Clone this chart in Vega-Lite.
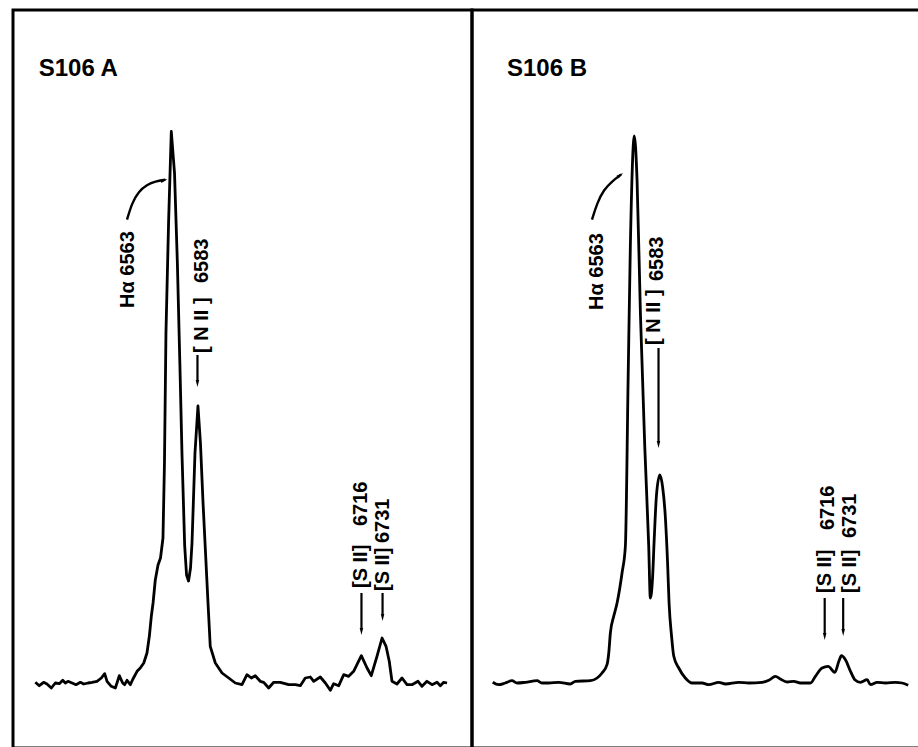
{
  "$schema": "https://vega.github.io/schema/vega-lite/v6.json",
  "padding": {"left": 11, "top": 8, "right": 0, "bottom": 1},
  "spacing": 0,
  "bounds": "flush",
  "background": "white",
  "config": {
    "view": {"stroke": "black", "strokeWidth": 3},
    "text": {"font": "Liberation Sans"}
  },
  "datasets": {
    "spectra": [
      {"panel":"A","wavelength":6453.0,"flux":0.7},{"panel":"A","wavelength":6456.2,"flux":-2.7},{"panel":"A","wavelength":6459.7,"flux":0.7},{"panel":"A","wavelength":6462.4,"flux":-1},{"panel":"A","wavelength":6465.9,"flux":-5},{"panel":"A","wavelength":6469.1,"flux":0},{"panel":"A","wavelength":6472.3,"flux":-0.7},{"panel":"A","wavelength":6475.1,"flux":2.7},{"panel":"A","wavelength":6477.2,"flux":0},{"panel":"A","wavelength":6479.3,"flux":1.7},{"panel":"A","wavelength":6482.6,"flux":0},{"panel":"A","wavelength":6485.8,"flux":-1.7},{"panel":"A","wavelength":6489.3,"flux":0.7},{"panel":"A","wavelength":6492.0,"flux":-1},{"panel":"A","wavelength":6495.5,"flux":0},{"panel":"A","wavelength":6498.7,"flux":0.7},{"panel":"A","wavelength":6502.7,"flux":1.7},{"panel":"A","wavelength":6506.2,"flux":5},{"panel":"A","wavelength":6508.9,"flux":9.3},{"panel":"A","wavelength":6510.8,"flux":1.7},{"panel":"A","wavelength":6514.2,"flux":-3.3},{"panel":"A","wavelength":6517.5,"flux":-5},{"panel":"A","wavelength":6520.7,"flux":7.3},{"panel":"A","wavelength":6523.4,"flux":0},{"panel":"A","wavelength":6525.0,"flux":-1.7},{"panel":"A","wavelength":6526.9,"flux":2.7},{"panel":"A","wavelength":6529.6,"flux":-1.7},{"panel":"A","wavelength":6531.7,"flux":4},{"panel":"A","wavelength":6535.0,"flux":11.7},{"panel":"A","wavelength":6537.6,"flux":15},{"panel":"A","wavelength":6540.4,"flux":20},{"panel":"A","wavelength":6543.0,"flux":30},{"panel":"A","wavelength":6544.9,"flux":46.7},{"panel":"A","wavelength":6546.5,"flux":66.7},{"panel":"A","wavelength":6547.9,"flux":80},{"panel":"A","wavelength":6549.7,"flux":103},{"panel":"A","wavelength":6551.9,"flux":118},{"panel":"A","wavelength":6553.9,"flux":125},{"panel":"A","wavelength":6555.9,"flux":145},{"panel":"A","wavelength":6557.1,"flux":220},{"panel":"A","wavelength":6558.3,"flux":350},{"panel":"A","wavelength":6560.4,"flux":460},{"panel":"A","wavelength":6562.6,"flux":551.5},{"panel":"A","wavelength":6565.2,"flux":510},{"panel":"A","wavelength":6567.5,"flux":420},{"panel":"A","wavelength":6569.5,"flux":320},{"panel":"A","wavelength":6571.2,"flux":230},{"panel":"A","wavelength":6573.4,"flux":137},{"panel":"A","wavelength":6574.9,"flux":108},{"panel":"A","wavelength":6576.5,"flux":102},{"panel":"A","wavelength":6578.1,"flux":115},{"panel":"A","wavelength":6579.3,"flux":140},{"panel":"A","wavelength":6581.7,"flux":230},{"panel":"A","wavelength":6584.1,"flux":277},{"panel":"A","wavelength":6586.1,"flux":240},{"panel":"A","wavelength":6588.2,"flux":180},{"panel":"A","wavelength":6590.2,"flux":130},{"panel":"A","wavelength":6592.2,"flux":80},{"panel":"A","wavelength":6594.0,"flux":36.7},{"panel":"A","wavelength":6598.1,"flux":20},{"panel":"A","wavelength":6603.5,"flux":10},{"panel":"A","wavelength":6608.9,"flux":5},{"panel":"A","wavelength":6614.2,"flux":0},{"panel":"A","wavelength":6619.6,"flux":-1.7},{"panel":"A","wavelength":6623.6,"flux":8.3},{"panel":"A","wavelength":6627.1,"flux":5},{"panel":"A","wavelength":6630.3,"flux":7.3},{"panel":"A","wavelength":6634.3,"flux":1.7},{"panel":"A","wavelength":6637.1,"flux":0.7},{"panel":"A","wavelength":6641.1,"flux":-5},{"panel":"A","wavelength":6645.2,"flux":0.7},{"panel":"A","wavelength":6650.5,"flux":0.7},{"panel":"A","wavelength":6657.2,"flux":-1.7},{"panel":"A","wavelength":6662.6,"flux":-1.7},{"panel":"A","wavelength":6666.6,"flux":-2.7},{"panel":"A","wavelength":6670.6,"flux":5},{"panel":"A","wavelength":6674.7,"flux":6},{"panel":"A","wavelength":6677.4,"flux":1.7},{"panel":"A","wavelength":6682.7,"flux":6},{"panel":"A","wavelength":6686.8,"flux":0},{"panel":"A","wavelength":6690.8,"flux":-7.3},{"panel":"A","wavelength":6693.5,"flux":-0.7},{"panel":"A","wavelength":6697.6,"flux":-2.7},{"panel":"A","wavelength":6701.6,"flux":8.3},{"panel":"A","wavelength":6705.6,"flux":6.7},{"panel":"A","wavelength":6709.6,"flux":11.7},{"panel":"A","wavelength":6715.8,"flux":27.3},{"panel":"A","wavelength":6720.4,"flux":15},{"panel":"A","wavelength":6723.8,"flux":7.3},{"panel":"A","wavelength":6728.4,"flux":26.7},{"panel":"A","wavelength":6732.5,"flux":45},{"panel":"A","wavelength":6735.7,"flux":36.7},{"panel":"A","wavelength":6738.3,"flux":21.7},{"panel":"A","wavelength":6740.5,"flux":1.7},{"panel":"A","wavelength":6744.5,"flux":-1},{"panel":"A","wavelength":6748.6,"flux":5},{"panel":"A","wavelength":6752.6,"flux":-1.7},{"panel":"A","wavelength":6756.6,"flux":-1.7},{"panel":"A","wavelength":6761.5,"flux":1.7},{"panel":"A","wavelength":6764.7,"flux":-3.3},{"panel":"A","wavelength":6768.7,"flux":1.7},{"panel":"A","wavelength":6772.8,"flux":-1.7},{"panel":"A","wavelength":6776.8,"flux":0.7},{"panel":"A","wavelength":6779.5,"flux":-2.7},{"panel":"A","wavelength":6782.2,"flux":0.7},{"panel":"A","wavelength":6784.9,"flux":0},
      {"panel":"B","wavelength":6448.7,"flux":0.7},{"panel":"B","wavelength":6453.5,"flux":-1.7},{"panel":"B","wavelength":6458.8,"flux":0},{"panel":"B","wavelength":6464.2,"flux":2.3},{"panel":"B","wavelength":6468.3,"flux":0},{"panel":"B","wavelength":6475.0,"flux":0.7},{"panel":"B","wavelength":6484.4,"flux":2.3},{"panel":"B","wavelength":6488.4,"flux":0},{"panel":"B","wavelength":6493.8,"flux":0},{"panel":"B","wavelength":6501.9,"flux":0.7},{"panel":"B","wavelength":6511.2,"flux":-1},{"panel":"B","wavelength":6515.3,"flux":1.7},{"panel":"B","wavelength":6527.4,"flux":2.3},{"panel":"B","wavelength":6532.8,"flux":5},{"panel":"B","wavelength":6536.8,"flux":10},{"panel":"B","wavelength":6540.8,"flux":18.3},{"panel":"B","wavelength":6542.2,"flux":30},{"panel":"B","wavelength":6543.5,"flux":50},{"panel":"B","wavelength":6546.2,"flux":66.7},{"panel":"B","wavelength":6548.9,"flux":80},{"panel":"B","wavelength":6552.9,"flux":110},{"panel":"B","wavelength":6555.6,"flux":137},{"panel":"B","wavelength":6557.8,"flux":303},{"panel":"B","wavelength":6559.6,"flux":437},{"panel":"B","wavelength":6562.8,"flux":547},{"panel":"B","wavelength":6565.0,"flux":503},{"panel":"B","wavelength":6567.7,"flux":370},{"panel":"B","wavelength":6571.2,"flux":237},{"panel":"B","wavelength":6574.4,"flux":137},{"panel":"B","wavelength":6575.7,"flux":85},{"panel":"B","wavelength":6577.5,"flux":105},{"panel":"B","wavelength":6578.7,"flux":140},{"panel":"B","wavelength":6580.6,"flux":187},{"panel":"B","wavelength":6583.3,"flux":208},{"panel":"B","wavelength":6585.6,"flux":196},{"panel":"B","wavelength":6587.8,"flux":166},{"panel":"B","wavelength":6589.6,"flux":120},{"panel":"B","wavelength":6590.8,"flux":80},{"panel":"B","wavelength":6592.8,"flux":47},{"panel":"B","wavelength":6594.6,"flux":26.7},{"panel":"B","wavelength":6598.6,"flux":15},{"panel":"B","wavelength":6603.9,"flux":5},{"panel":"B","wavelength":6609.3,"flux":0},{"panel":"B","wavelength":6617.4,"flux":0},{"panel":"B","wavelength":6622.8,"flux":-1.7},{"panel":"B","wavelength":6630.9,"flux":0.7},{"panel":"B","wavelength":6636.2,"flux":-1},{"panel":"B","wavelength":6647.0,"flux":0.7},{"panel":"B","wavelength":6655.0,"flux":0},{"panel":"B","wavelength":6665.8,"flux":0.7},{"panel":"B","wavelength":6671.2,"flux":2.7},{"panel":"B","wavelength":6676.5,"flux":6.7},{"panel":"B","wavelength":6680.5,"flux":4},{"panel":"B","wavelength":6685.9,"flux":1},{"panel":"B","wavelength":6691.3,"flux":1.7},{"panel":"B","wavelength":6696.6,"flux":0},{"panel":"B","wavelength":6704.7,"flux":0},{"panel":"B","wavelength":6708.7,"flux":6.7},{"panel":"B","wavelength":6714.1,"flux":15},{"panel":"B","wavelength":6719.0,"flux":16.7},{"panel":"B","wavelength":6724.4,"flux":10.7},{"panel":"B","wavelength":6727.6,"flux":21.7},{"panel":"B","wavelength":6729.7,"flux":27.3},{"panel":"B","wavelength":6732.9,"flux":23.3},{"panel":"B","wavelength":6737.0,"flux":11.7},{"panel":"B","wavelength":6740.5,"flux":3.3},{"panel":"B","wavelength":6745.0,"flux":0.7},{"panel":"B","wavelength":6750.4,"flux":3.3},{"panel":"B","wavelength":6753.1,"flux":-1.7},{"panel":"B","wavelength":6758.5,"flux":0.7},{"panel":"B","wavelength":6765.2,"flux":0},{"panel":"B","wavelength":6773.2,"flux":0.7},{"panel":"B","wavelength":6778.6,"flux":0},{"panel":"B","wavelength":6783.5,"flux":-2.3}
    ],
    "curves": [
      {"panel":"A","i":0,"wavelength":6526.9,"flux":463.3},{"panel":"A","i":1,"wavelength":6530.9,"flux":480},{"panel":"A","i":2,"wavelength":6536.3,"flux":491.7},{"panel":"A","i":3,"wavelength":6543.0,"flux":498.3},{"panel":"A","i":4,"wavelength":6549.7,"flux":501.7},{"panel":"A","i":5,"wavelength":6557.8,"flux":503.3},
      {"panel":"B","i":0,"wavelength":6528.7,"flux":463.3},{"panel":"B","i":1,"wavelength":6532.8,"flux":480},{"panel":"B","i":2,"wavelength":6538.2,"flux":493.3},{"panel":"B","i":3,"wavelength":6544.9,"flux":501.7},{"panel":"B","i":4,"wavelength":6552.1,"flux":508.5}
    ],
    "arrows": [
      {"panel":"A","wavelength":6583.7,"top":328,"end":302},
      {"panel":"A","wavelength":6715.9,"top":90,"end":54},
      {"panel":"A","wavelength":6732.9,"top":90,"end":68},
      {"panel":"B","wavelength":6582.3,"top":335,"end":241},
      {"panel":"B","wavelength":6716.2,"top":85,"end":49},
      {"panel":"B","wavelength":6731.1,"top":85,"end":53}
    ],
    "heads": [
      {"panel":"A","wavelength":6583.7,"flux":296,"angle":0},
      {"panel":"A","wavelength":6715.9,"flux":48,"angle":0},
      {"panel":"A","wavelength":6732.9,"flux":62,"angle":0},
      {"panel":"A","wavelength":6559.5,"flux":504,"angle":250},
      {"panel":"B","wavelength":6582.3,"flux":235,"angle":0},
      {"panel":"B","wavelength":6716.2,"flux":43,"angle":0},
      {"panel":"B","wavelength":6731.1,"flux":47,"angle":0},
      {"panel":"B","wavelength":6553.8,"flux":510,"angle":233}
    ],
    "labels": [
      {"panel":"A","text":"Hα 6563","wavelength":6527.3,"flux":375},
      {"panel":"A","text":"[ N II ]","wavelength":6587.4,"flux":330},
      {"panel":"A","text":"6583","wavelength":6587.6,"flux":400},
      {"panel":"A","text":"[S II]","wavelength":6715.5,"flux":95},
      {"panel":"A","text":"6716","wavelength":6715.5,"flux":157},
      {"panel":"A","text":"[S II]","wavelength":6733.3,"flux":92},
      {"panel":"A","text":"6731","wavelength":6732.9,"flux":140},
      {"panel":"B","text":"Hα 6563","wavelength":6532.8,"flux":373},
      {"panel":"B","text":"[ N II ]","wavelength":6578.5,"flux":338},
      {"panel":"B","text":"6583","wavelength":6581.1,"flux":402},
      {"panel":"B","text":"[S II]","wavelength":6716.2,"flux":90},
      {"panel":"B","text":"6716","wavelength":6718.6,"flux":153},
      {"panel":"B","text":"[S II]","wavelength":6736.3,"flux":90},
      {"panel":"B","text":"6731","wavelength":6736.3,"flux":145}
    ],
    "titles": [
      {"panel":"A","text":"S106 A","wavelength":6455.7,"flux":607},
      {"panel":"B","text":"S106 B","wavelength":6460.2,"flux":607}
    ]
  },
  "hconcat": [
    {
      "width": 459,
      "height": 738,
      "layer": [
        {
          "data": {"name": "spectra"},
          "transform": [{"filter": "datum.panel === 'A'"}],
          "mark": {"type": "line", "color": "black", "strokeWidth": 2.8, "strokeJoin": "round", "interpolate": "linear"},
          "encoding": {
            "x": {"field": "wavelength", "type": "quantitative", "scale": {"domain": [6435, 6805], "nice": false, "zero": false}, "axis": null},
            "y": {"field": "flux", "type": "quantitative", "scale": {"domain": [-65, 673], "nice": false, "zero": false}, "axis": null}
          }
        },
        {
          "data": {"name": "curves"},
          "transform": [{"filter": "datum.panel === 'A'"}],
          "mark": {"type": "line", "color": "black", "strokeWidth": 2.4, "interpolate": "basis"},
          "encoding": {
            "x": {"field": "wavelength", "type": "quantitative", "scale": {"domain": [6435, 6805], "nice": false, "zero": false}, "axis": null},
            "y": {"field": "flux", "type": "quantitative", "scale": {"domain": [-65, 673], "nice": false, "zero": false}, "axis": null},
            "order": {"field": "i", "type": "quantitative"}
          }
        },
        {
          "data": {"name": "arrows"},
          "transform": [{"filter": "datum.panel === 'A'"}],
          "mark": {"type": "rule", "color": "black", "strokeWidth": 2.2},
          "encoding": {
            "x": {"field": "wavelength", "type": "quantitative", "scale": {"domain": [6435, 6805], "nice": false, "zero": false}, "axis": null},
            "y": {"field": "top", "type": "quantitative", "scale": {"domain": [-65, 673], "nice": false, "zero": false}, "axis": null},
            "y2": {"field": "end"}
          }
        },
        {
          "data": {"name": "heads"},
          "transform": [{"filter": "datum.panel === 'A'"}],
          "mark": {"type": "point", "shape": "M -0.5 -2 L 0 0 L 0.5 -2 Z", "filled": true, "color": "black", "opacity": 1, "size": 49, "strokeWidth": 0},
          "encoding": {
            "x": {"field": "wavelength", "type": "quantitative", "scale": {"domain": [6435, 6805], "nice": false, "zero": false}, "axis": null},
            "y": {"field": "flux", "type": "quantitative", "scale": {"domain": [-65, 673], "nice": false, "zero": false}, "axis": null},
            "angle": {"field": "angle", "type": "quantitative", "scale": null}
          }
        },
        {
          "data": {"name": "labels"},
          "transform": [{"filter": "datum.panel === 'A'"}],
          "mark": {"type": "text", "angle": 270, "align": "left", "baseline": "middle", "fontSize": 20, "fontWeight": "bold", "color": "black"},
          "encoding": {
            "x": {"field": "wavelength", "type": "quantitative", "scale": {"domain": [6435, 6805], "nice": false, "zero": false}, "axis": null},
            "y": {"field": "flux", "type": "quantitative", "scale": {"domain": [-65, 673], "nice": false, "zero": false}, "axis": null},
            "text": {"field": "text"}
          }
        },
        {
          "data": {"name": "titles"},
          "transform": [{"filter": "datum.panel === 'A'"}],
          "mark": {"type": "text", "align": "left", "baseline": "alphabetic", "fontSize": 24, "fontWeight": "bold", "color": "black"},
          "encoding": {
            "x": {"field": "wavelength", "type": "quantitative", "scale": {"domain": [6435, 6805], "nice": false, "zero": false}, "axis": null},
            "y": {"field": "flux", "type": "quantitative", "scale": {"domain": [-65, 673], "nice": false, "zero": false}, "axis": null},
            "text": {"field": "text"}
          }
        }
      ]
    },
    {
      "width": 448,
      "height": 738,
      "layer": [
        {
          "data": {"name": "spectra"},
          "transform": [{"filter": "datum.panel === 'B'"}],
          "mark": {"type": "line", "color": "black", "strokeWidth": 2.8, "strokeJoin": "round", "interpolate": "monotone"},
          "encoding": {
            "x": {"field": "wavelength", "type": "quantitative", "scale": {"domain": [6432, 6793], "nice": false, "zero": false}, "axis": null},
            "y": {"field": "flux", "type": "quantitative", "scale": {"domain": [-65, 673], "nice": false, "zero": false}, "axis": null}
          }
        },
        {
          "data": {"name": "curves"},
          "transform": [{"filter": "datum.panel === 'B'"}],
          "mark": {"type": "line", "color": "black", "strokeWidth": 2.4, "interpolate": "basis"},
          "encoding": {
            "x": {"field": "wavelength", "type": "quantitative", "scale": {"domain": [6432, 6793], "nice": false, "zero": false}, "axis": null},
            "y": {"field": "flux", "type": "quantitative", "scale": {"domain": [-65, 673], "nice": false, "zero": false}, "axis": null},
            "order": {"field": "i", "type": "quantitative"}
          }
        },
        {
          "data": {"name": "arrows"},
          "transform": [{"filter": "datum.panel === 'B'"}],
          "mark": {"type": "rule", "color": "black", "strokeWidth": 2.2},
          "encoding": {
            "x": {"field": "wavelength", "type": "quantitative", "scale": {"domain": [6432, 6793], "nice": false, "zero": false}, "axis": null},
            "y": {"field": "top", "type": "quantitative", "scale": {"domain": [-65, 673], "nice": false, "zero": false}, "axis": null},
            "y2": {"field": "end"}
          }
        },
        {
          "data": {"name": "heads"},
          "transform": [{"filter": "datum.panel === 'B'"}],
          "mark": {"type": "point", "shape": "M -0.5 -2 L 0 0 L 0.5 -2 Z", "filled": true, "color": "black", "opacity": 1, "size": 49, "strokeWidth": 0},
          "encoding": {
            "x": {"field": "wavelength", "type": "quantitative", "scale": {"domain": [6432, 6793], "nice": false, "zero": false}, "axis": null},
            "y": {"field": "flux", "type": "quantitative", "scale": {"domain": [-65, 673], "nice": false, "zero": false}, "axis": null},
            "angle": {"field": "angle", "type": "quantitative", "scale": null}
          }
        },
        {
          "data": {"name": "labels"},
          "transform": [{"filter": "datum.panel === 'B'"}],
          "mark": {"type": "text", "angle": 270, "align": "left", "baseline": "middle", "fontSize": 20, "fontWeight": "bold", "color": "black"},
          "encoding": {
            "x": {"field": "wavelength", "type": "quantitative", "scale": {"domain": [6432, 6793], "nice": false, "zero": false}, "axis": null},
            "y": {"field": "flux", "type": "quantitative", "scale": {"domain": [-65, 673], "nice": false, "zero": false}, "axis": null},
            "text": {"field": "text"}
          }
        },
        {
          "data": {"name": "titles"},
          "transform": [{"filter": "datum.panel === 'B'"}],
          "mark": {"type": "text", "align": "left", "baseline": "alphabetic", "fontSize": 24, "fontWeight": "bold", "color": "black"},
          "encoding": {
            "x": {"field": "wavelength", "type": "quantitative", "scale": {"domain": [6432, 6793], "nice": false, "zero": false}, "axis": null},
            "y": {"field": "flux", "type": "quantitative", "scale": {"domain": [-65, 673], "nice": false, "zero": false}, "axis": null},
            "text": {"field": "text"}
          }
        }
      ]
    }
  ]
}
